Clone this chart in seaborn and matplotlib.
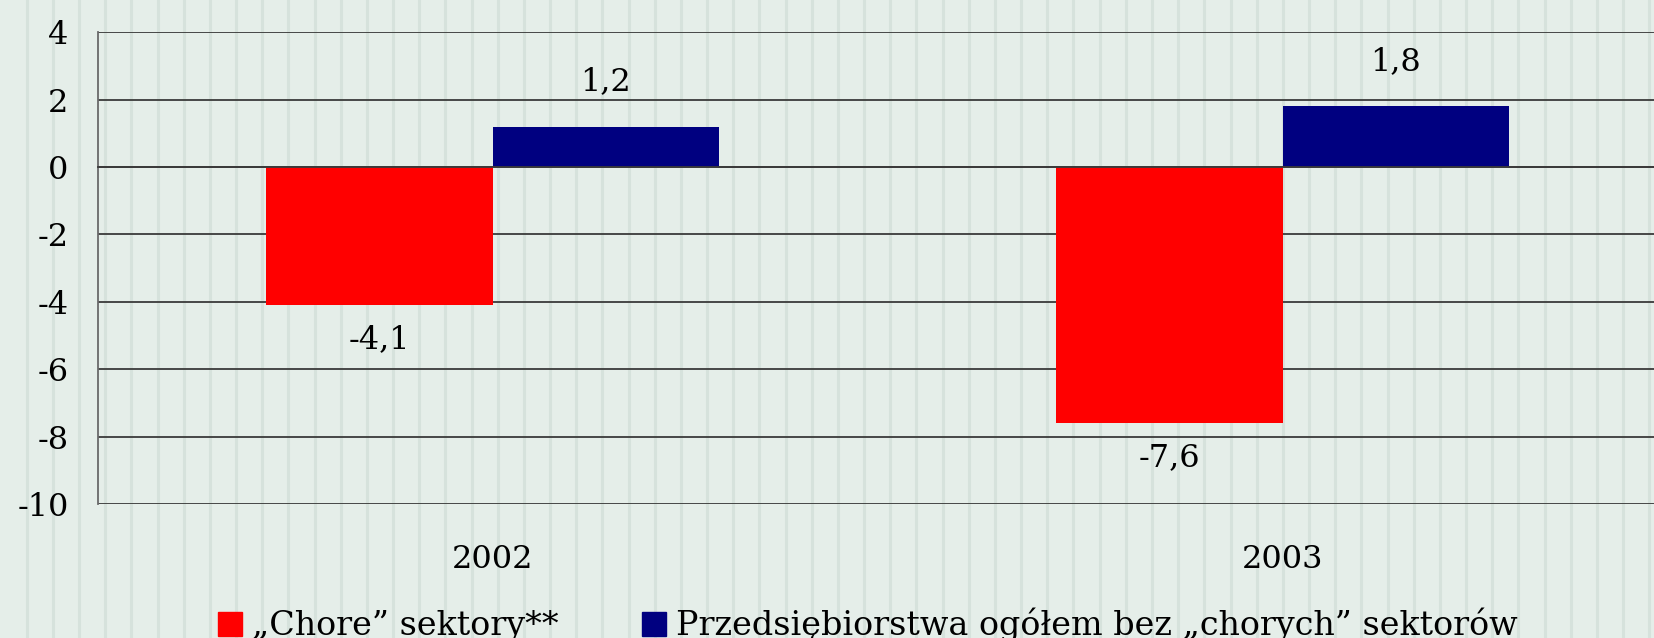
import matplotlib
matplotlib.use("Agg")
import matplotlib.pyplot as plt
from matplotlib.lines import Line2D
import seaborn as sns
import pandas as pd

# Data
years = ["2002", "2003"]
series_names = ["\u201eChore\u201d sektory**",
                "Przedsi\u0119biorstwa og\u00f3\u0142em bez \u201echorych\u201d sektor\u00f3w"]
chore = [-4.1, -7.6]
pozostale = [1.2, 1.8]
colors = ["#ff0000", "#000080"]
y_ticks = [-10, -8, -6, -4, -2, 0, 2, 4]

df = pd.DataFrame({
    "rok": years * 2,
    "seria": [series_names[0]] * len(years) + [series_names[1]] * len(years),
    "wartosc": chore + pozostale,
})

sns.set_style("white")
plt.rcParams["font.family"] = ["DejaVu Serif"]
plt.rcParams["axes.unicode_minus"] = False
plt.rcParams["text.color"] = "black"
plt.rcParams["xtick.color"] = "black"
plt.rcParams["ytick.color"] = "black"
plt.rcParams["xtick.labelcolor"] = "black"
plt.rcParams["ytick.labelcolor"] = "black"

W, H = 1654, 638
bg = "#e5eee9"
fig = plt.figure(figsize=(W / 100, H / 100), dpi=100, facecolor=bg)

# Vertical pinstripe background
x = 26.7
while x < W:
    fig.add_artist(Line2D([x / W, x / W], [0, 1], transform=fig.transFigure,
                          color="#d6e2dc", lw=2.2, zorder=-10))
    x += 26.17

ax = fig.add_axes([97.7 / W, 1 - 504 / H, 1580 / W, (504 - 32.3) / H])
ax.patch.set_alpha(0)

sns.barplot(data=df, x="rok", y="wartosc", hue="seria", palette=colors,
            width=0.573, gap=0, saturation=1, ax=ax, legend=False, zorder=3,
            edgecolor="none", linewidth=0)

ax.set_xlim(-0.5, 1.5)
ax.set_ylim(-10, 4)
ax.set_yticks(y_ticks)
ax.set_yticklabels([str(v) for v in y_ticks], fontsize=23)
ax.set_xlabel("")
ax.set_ylabel("")

# Horizontal gridlines
ax.set_axisbelow(True)
ax.yaxis.grid(True, color="#3a3a3a", lw=1.3)
ax.xaxis.grid(False)

# Spines: category axis crosses at zero
for s in ["top", "right"]:
    ax.spines[s].set_visible(False)
ax.spines["left"].set_color("#6a6a6a")
ax.spines["left"].set_linewidth(1.3)
ax.spines["bottom"].set_position(("data", 0))
ax.spines["bottom"].set_color("#3a3a3a")
ax.spines["bottom"].set_linewidth(1.3)
ax.spines["bottom"].set_zorder(4)

ax.tick_params(axis="y", length=8, width=1.3, color="#6a6a6a", pad=13)
ax.set_xticks([0, 1])
ax.set_xticklabels([])
ax.tick_params(axis="x", which="major", length=0)
ax.set_xticks([-0.5, 0.5, 1.5], minor=True)
ax.tick_params(axis="x", which="minor", length=8, width=1.3,
               direction="out", color="#3a3a3a")

# Category labels at the bottom of the plot area
sec = ax.secondary_xaxis("bottom")
sec.set_xticks([0, 1])
sec.set_xticklabels(years, fontsize=23)
sec.tick_params(length=0, pad=29)
sec.spines["bottom"].set_visible(False)

# Value labels
for container in ax.containers:
    for bar in container:
        v = bar.get_height()
        off = 26 if v >= 0 else -31
        ax.annotate(f"{v:.1f}".replace(".", ","),
                    (bar.get_x() + bar.get_width() / 2, v),
                    xytext=(0, off), textcoords="offset points",
                    ha="center", va="baseline", fontsize=23)

# Legend below the chart
handles = [plt.Rectangle((0, 0), 1, 1, color=c) for c in colors]
fig.legend(handles, series_names, loc="center", bbox_to_anchor=(0.525, 0.02),
           ncol=2, frameon=False, fontsize=24, handlelength=0.72,
           handleheight=0.72, handletextpad=0.3, columnspacing=2.5,
           borderpad=0)

fig.savefig("out.png", dpi=100, facecolor=bg)
